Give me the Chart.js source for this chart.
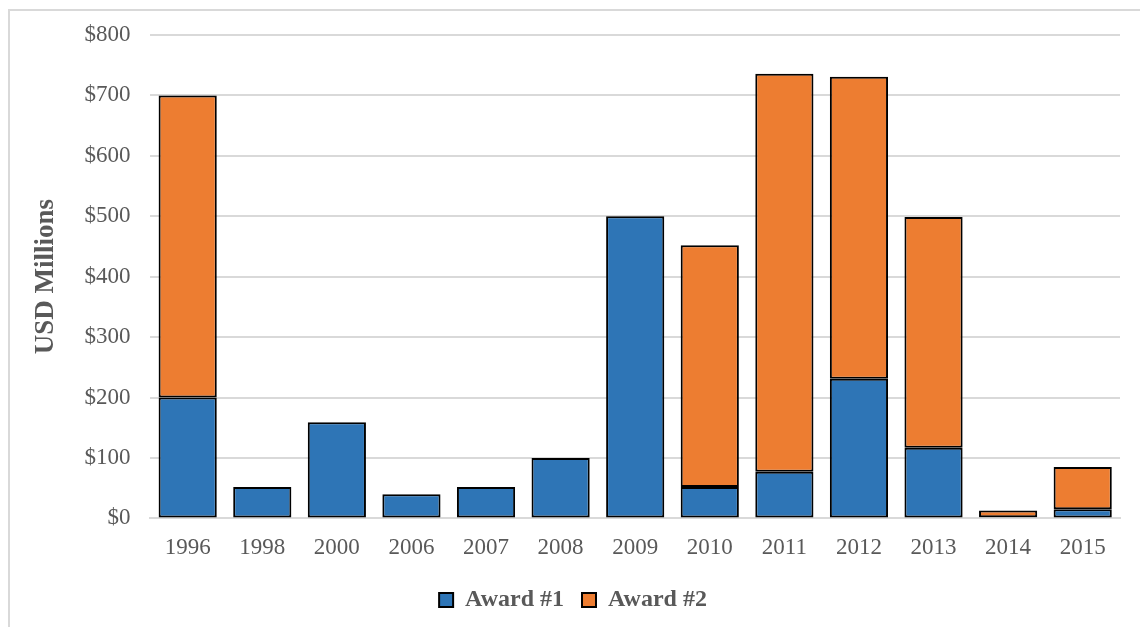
<!DOCTYPE html>
<html>
<head>
<meta charset="utf-8">
<script src="https://cdn.jsdelivr.net/npm/chart.js@4/dist/chart.umd.min.js"></script>
<style>
  html, body { margin: 0; padding: 0; background: #fff; }
  #wrap { position: relative; width: 1140px; height: 627px; overflow: hidden; }
  #frame { position: absolute; left: 8px; top: 9px; width: 1200px; height: 700px; border: 2px solid #d9d9d9; box-sizing: border-box; }
  #chart { position: absolute; left: 0; top: 0; }
</style>
</head>
<body>
<div id="wrap">
  <div id="frame"></div>
  <canvas id="chart" width="1140" height="627"></canvas>
</div>
<script>
const years = ["1996", "1998", "2000", "2006", "2007", "2008", "2009", "2010", "2011", "2012", "2013", "2014", "2015"];
const award1 = [200, 52, 159, 40, 52, 100, 500, 52, 77, 231, 117, 2, 15];
const award2 = [500, null, null, null, null, null, null, 400, 659, 500, 382, 11, 70];
const yTicks = [0, 100, 200, 300, 400, 500, 600, 700, 800];

const grey = "#595959";
const serif = "'Liberation Serif', 'Times New Roman', serif";

new Chart(document.getElementById("chart").getContext("2d"), {
  type: "bar",
  data: {
    labels: years,
    datasets: [
      {
        label: "Award #1",
        data: award1,
        backgroundColor: "#2e75b6",
        borderColor: "#000",
        borderWidth: 2,
        borderSkipped: false,
        categoryPercentage: 1,
        barPercentage: 0.78,
      },
      {
        label: "Award #2",
        data: award2,
        backgroundColor: "#ed7d31",
        borderColor: "#000",
        borderWidth: 2,
        borderSkipped: false,
        categoryPercentage: 1,
        barPercentage: 0.78,
      },
    ],
  },
  options: {
    responsive: false,
    animation: false,
    layout: { padding: { left: 26, right: 20, top: 35, bottom: 5 } },
    plugins: {
      tooltip: { enabled: false },
      legend: {
        display: true,
        position: "bottom",
        labels: {
          color: grey,
          font: { family: serif, size: 24, weight: "bold" },
          boxWidth: 14,
          boxHeight: 14,
          padding: 18,
          useBorderRadius: false,
        },
      },
    },
    scales: {
      x: {
        stacked: true,
        grid: { display: false },
        border: { color: "#d9d9d9", width: 2 },
        ticks: { color: grey, font: { family: serif, size: 23 }, padding: 8 },
      },
      y: {
        stacked: true,
        min: 0,
        max: 800,
        afterBuildTicks: (axis) => { axis.ticks = yTicks.map((v) => ({ value: v })); },
        grid: { color: "#d9d9d9", lineWidth: 2, drawTicks: false },
        border: { display: false },
        ticks: {
          color: grey,
          font: { family: serif, size: 23 },
          padding: 20,
          callback: (v) => "$" + v,
        },
        title: {
          display: true,
          text: "USD Millions",
          color: grey,
          font: { family: serif, size: 27, weight: "bold" },
          padding: { bottom: 2 },
        },
      },
    },
  },
});
</script>
</body>
</html>
